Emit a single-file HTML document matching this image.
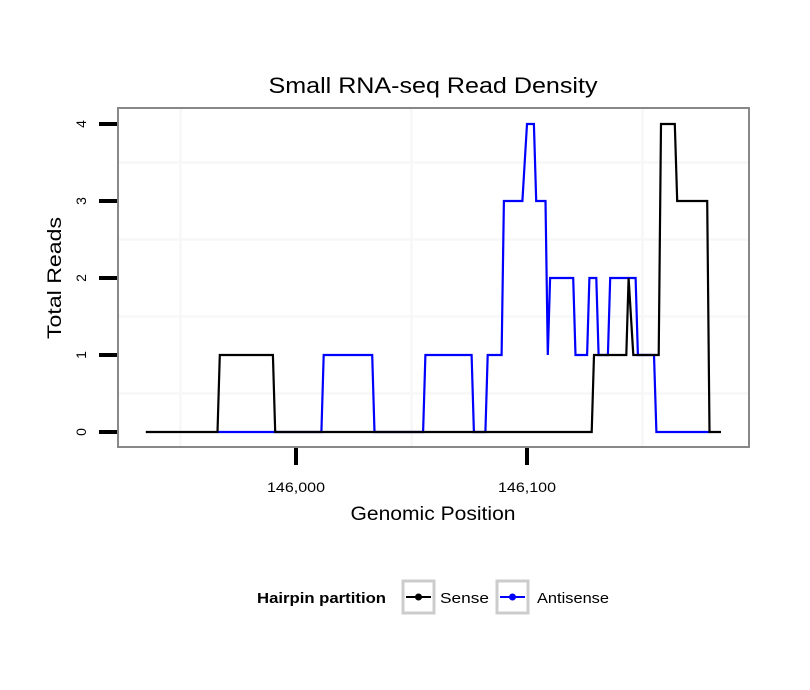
<!DOCTYPE html>
<html><head><meta charset="utf-8"><style>
body{margin:0;background:#fff;}
svg{display:block;font-family:"Liberation Sans",Arial,sans-serif;}
</style></head><body>
<svg id="chart" width="810" height="690" viewBox="0 0 810 690">
<text x="433" y="93" font-size="22" text-anchor="middle" textLength="329" lengthAdjust="spacingAndGlyphs">Small RNA-seq Read Density</text>
<g id="grid"></g>
<g id="series"></g>
<rect x="118" y="108" width="631" height="339" fill="none" stroke="#888" stroke-width="2"/>
<g id="axes"></g>
<text x="433" y="520" font-size="19" text-anchor="middle" textLength="165" lengthAdjust="spacingAndGlyphs">Genomic Position</text>
<text transform="translate(61,278) rotate(-90)" font-size="19" text-anchor="middle" textLength="122" lengthAdjust="spacingAndGlyphs">Total Reads</text>
<g>
<text x="386" y="603" font-size="15" font-weight="bold" text-anchor="end" textLength="129" lengthAdjust="spacingAndGlyphs">Hairpin partition</text>
<g>
<rect x="403" y="581" width="31" height="32" fill="#fff" stroke="#ccc" stroke-width="3"/>
<line x1="406" y1="597" x2="431" y2="597" stroke="#000" stroke-width="2"/>
<circle cx="418.5" cy="597" r="3.5" fill="#000"/>
<text x="440" y="603" font-size="15" textLength="49" lengthAdjust="spacingAndGlyphs">Sense</text></g>
<g>
<rect x="497" y="581" width="31" height="32" fill="#fff" stroke="#ccc" stroke-width="3"/>
<line x1="500" y1="597" x2="525" y2="597" stroke="#00f" stroke-width="2"/>
<circle cx="512.5" cy="597" r="3.5" fill="#00f"/>
<text x="537" y="603" font-size="15" textLength="72" lengthAdjust="spacingAndGlyphs">Antisense</text></g>
</g>
</svg>
<script>
const senseX=[145935,145966,145967,145990,145991,146128,146129,146143,146144,146146,146157,146158,146164,146165,146178,146179,146184];
const senseY=[0,0,1,1,0,0,1,1,2,1,1,4,4,3,3,0,0];
const antiX=[145966,146011,146012,146033,146034,146055,146056,146076,146077,146082,146083,146089,146090,146098,146100,146103,146104,146108,146109,146110,146120,146121,146126,146127,146130,146131,146135,146136,146147,146148,146155,146156,146179];
const antiY=[0,0,1,1,0,0,1,1,0,0,1,1,3,3,4,4,3,3,1,2,2,1,1,2,2,1,1,2,2,1,1,0,0];
const xTicks=[146000,146100];
const xTickLabels=["146,000","146,100"];
const yTicks=[0,1,2,3,4];
const yTickLabels=["0","1","2","3","4"];
const NS="http://www.w3.org/2000/svg";
const sx=v=>296+(v-146000)*2.31;
const sy=v=>432-v*77;
function mk(t,a,p){const e=document.createElementNS(NS,t);for(const k in a)e.setAttribute(k,a[k]);p.appendChild(e);return e;}
const grid=document.getElementById('grid'),axes=document.getElementById('axes'),ser=document.getElementById('series');
[145950,146050,146150].forEach(v=>{const l=mk('line',{x1:sx(v),x2:sx(v),y1:109,y2:446,stroke:'#f7f7f7','stroke-width':2.5},grid);

});
[0.5,1.5,2.5,3.5].forEach(v=>{const l=mk('line',{x1:119,x2:748,y1:sy(v),y2:sy(v),stroke:'#f7f7f7','stroke-width':2.5},grid);

});
function path(xs,ys,c,name){const d=xs.map((x,i)=>(i?'L':'M')+sx(x).toFixed(1)+','+sy(ys[i]).toFixed(1)).join('');
const p=mk('path',{d:d,fill:'none',stroke:c,'stroke-width':2.2,'stroke-linejoin':'miter'},ser);

}
path(antiX,antiY,'#00f','antisense-line');
path(senseX,senseY,'#000','sense-line');
xTicks.forEach((v,i)=>{const t=mk('line',{x1:sx(v),x2:sx(v),y1:448,y2:465,stroke:'#000','stroke-width':4},axes);


const l=mk('text',{x:sx(v),y:492,'font-size':14,'text-anchor':'middle',textLength:58,lengthAdjust:'spacingAndGlyphs'},axes);l.textContent=xTickLabels[i];

});
yTicks.forEach((v,i)=>{const t=mk('line',{x1:99,x2:117,y1:sy(v),y2:sy(v),stroke:'#000','stroke-width':4},axes);


const l=mk('text',{transform:`translate(86,${sy(v)}) rotate(-90)`,'font-size':14,'text-anchor':'middle'},axes);l.textContent=yTickLabels[i];

});
</script>
</body></html>
